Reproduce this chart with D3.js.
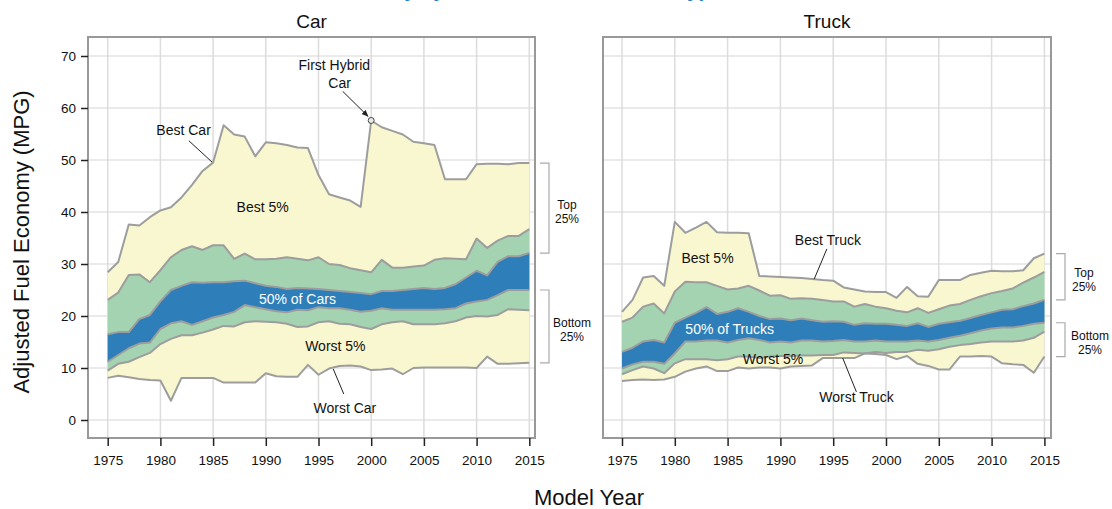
<!DOCTYPE html>
<html>
<head>
<meta charset="utf-8">
<script src="https://cdnjs.cloudflare.com/ajax/libs/d3/7.8.5/d3.min.js"></script>
<style>
  body { margin: 0; background: #fff; }
  svg { display: block; font-family: "Liberation Sans", Arial, sans-serif; }
</style>
</head>
<body>
<svg id="chart" width="1112" height="509"></svg>
<script>
// model years
var years = [1975,1976,1977,1978,1979,1980,1981,1982,1983,1984,1985,1986,1987,1988,1989,1990,
  1991,1992,1993,1994,1995,1996,1997,1998,1999,2000,2001,2002,2003,2004,2005,2006,2007,2008,
  2009,2010,2011,2012,2013,2014,2015];
var xTicks = [1975,1980,1985,1990,1995,2000,2005,2010,2015];
var yTicks = [0,10,20,30,40,50,60,70];

// car distribution (mpg)
var carMax = [28.4,30.4,37.6,37.4,39.0,40.3,40.9,42.8,45.2,47.9,49.5,56.7,54.9,54.5,50.7,53.4,
  53.2,52.9,52.4,52.3,47.1,43.4,42.8,42.2,41.0,57.6,56.3,55.6,54.9,53.5,53.2,52.9,46.3,46.3,
  46.3,49.2,49.3,49.3,49.2,49.4,49.4];
var carP95 = [23.1,24.5,27.9,28.0,26.5,28.8,31.3,32.7,33.4,32.7,33.6,33.6,31.0,32.0,30.9,30.9,
  31.0,31.3,31.0,30.7,31.3,30.0,29.8,29.2,28.8,28.4,30.8,29.3,29.3,29.5,29.7,30.8,31.1,31.0,
  30.9,34.9,33.1,34.5,35.4,35.4,36.7];
var carP75 = [16.5,16.9,16.9,19.4,20.2,22.8,25.0,25.8,26.5,26.4,26.5,26.5,26.7,26.8,26.3,25.8,
  25.6,25.2,25.4,25.3,25.2,25.0,24.8,24.6,24.4,24.2,24.8,24.8,25.0,25.2,25.4,25.2,25.4,26.1,
  27.4,28.7,27.8,30.4,31.5,31.5,32.1];
var carP25 = [11.2,12.5,13.8,14.7,14.9,17.5,18.6,19.0,18.3,19.0,19.7,20.2,20.8,22.1,21.7,21.3,
  20.9,20.7,21.2,21.1,21.7,21.5,21.5,21.2,20.8,21.0,21.5,21.2,21.2,21.2,21.2,21.2,21.3,21.5,
  22.4,22.8,23.1,24.0,25.0,25.0,25.0];
var carP5 = [9.5,10.8,11.2,12.1,12.9,14.6,15.6,16.3,16.3,16.8,17.4,18.1,18.0,18.8,19.0,18.9,
  18.8,18.5,17.9,18.0,18.8,19.0,18.5,18.4,17.9,17.5,18.4,18.8,19.0,18.4,18.4,18.4,18.6,19.0,
  19.7,20.0,19.9,20.2,21.3,21.2,21.1];
var carMin = [8.1,8.5,8.2,7.9,7.7,7.6,3.7,8.1,8.1,8.1,8.1,7.2,7.2,7.2,7.2,9.0,
  8.4,8.3,8.3,10.6,8.7,9.9,10.4,10.5,10.3,9.6,9.7,9.9,8.8,10.0,10.1,10.1,10.1,10.1,
  10.1,10.0,12.2,10.8,10.8,10.9,11.0];

// truck distribution (mpg)
var truckMax = [20.8,23.1,27.4,27.7,25.8,38.1,36.0,37.0,38.1,36.1,36.0,36.0,35.9,27.7,27.6,27.5,
  27.4,27.3,27.1,26.9,26.8,25.5,25.1,24.7,24.6,24.6,23.5,25.6,23.8,23.7,26.9,26.9,26.9,27.9,
  28.3,28.7,28.6,28.6,28.8,31.1,32.0];
var truckP95 = [18.9,19.7,21.8,22.4,20.5,24.7,26.6,26.5,26.5,25.8,25.1,25.3,25.8,24.9,23.9,24.0,
  23.3,23.4,23.3,23.1,22.8,22.8,21.8,22.3,21.8,21.5,21.0,20.7,21.5,20.6,21.3,22.0,22.3,23.1,
  23.8,24.4,24.8,25.3,26.4,27.4,28.5];
var truckP75 = [13.1,13.9,15.1,15.4,14.9,18.7,19.7,20.6,21.7,20.4,20.8,21.5,20.8,20.0,19.4,19.5,
  19.2,19.5,19.2,18.9,19.0,18.9,18.3,18.6,18.5,18.5,18.3,18.1,18.6,17.9,18.5,18.8,19.1,19.6,
  20.2,20.7,21.2,21.3,21.9,22.4,23.1];
var truckP25 = [9.9,10.7,11.2,11.2,10.8,12.8,15.1,15.1,15.3,15.3,14.9,15.4,15.7,15.4,14.9,15.1,
  14.9,15.3,15.3,15.1,15.2,15.4,15.1,15.1,15.3,15.1,15.1,15.1,15.3,15.1,15.4,15.8,16.2,16.7,
  17.2,17.6,17.8,17.8,18.1,18.5,18.7];
var truckP5 = [8.8,9.6,10.3,9.9,9.0,10.9,11.7,11.7,11.7,11.5,11.7,12.2,12.2,11.9,12.2,12.3,
  12.3,12.4,12.4,12.5,12.5,13.0,12.9,12.8,13.1,12.9,13.1,13.1,13.5,13.3,13.6,14.1,14.4,14.6,
  14.9,15.1,15.1,15.1,15.3,15.8,17.0];
var truckMin = [7.5,7.7,7.8,7.7,7.8,8.3,9.3,9.9,10.3,9.4,9.4,10.1,9.9,10.1,10.1,9.9,
  10.3,10.4,10.5,11.9,11.9,11.9,11.9,12.8,12.7,12.5,11.7,12.3,10.8,10.4,9.7,9.7,12.2,12.2,
  12.3,12.2,10.9,10.7,10.6,9.1,12.2];

// labels placed in data units [year, mpg]
var carNotes = [
  {text: "Best Car", at: [1982.2, 54.8]},
  {text: "Best 5%", at: [1989.7, 40.0]},
  {text: "50% of Cars", at: [1993.0, 22.4], white: true},
  {text: "Worst 5%", at: [1996.6, 13.2]},
  {text: "Worst Car", at: [1997.5, 1.3]},
  {text: "First Hybrid", at: [1996.5, 67.4]},
  {text: "Car", at: [1997.0, 63.9]}
];
var carLeaders = [
  {from: [1982.7, 53.7], to: [1984.9, 49.6]},
  {from: [1996.4, 9.8], to: [1997.4, 5.0]},
  {from: [1997.3, 63.2], to: [1999.7, 58.4], arrow: true}
];
var truckNotes = [
  {text: "Best 5%", at: [1983.1, 30.2]},
  {text: "Best Truck", at: [1994.5, 33.7]},
  {text: "50% of Trucks", at: [1985.2, 16.6], white: true},
  {text: "Worst 5%", at: [1989.3, 10.7]},
  {text: "Worst Truck", at: [1997.2, 3.4]}
];
var truckLeaders = [
  {from: [1994.4, 32.9], to: [1993.2, 27.1]},
  {from: [1995.9, 11.9], to: [1997.2, 5.4]}
];
var hybrid = [2000, 57.6];

var svg = d3.select("#chart");
var pTop = 37, pBottom = 438;
var y = d3.scaleLinear().domain([0, 70]).range([420, 56]);

var defs = svg.append("defs");
defs.append("marker").attr("id", "arr").attr("viewBox", "0 0 10 10")
  .attr("refX", 9).attr("refY", 5).attr("markerWidth", 7).attr("markerHeight", 7)
  .attr("orient", "auto")
  .append("path").attr("d", "M0,1 L10,5 L0,9 z").attr("fill", "#222");

// figure title, cut off at the top edge as in the source image
svg.append("text").attr("x", 556).attr("y", -3).attr("text-anchor", "middle")
  .style("font-size", "20px").style("font-weight", "bold").style("fill", "#1f7fc4")
  .text("Fuel Economy by Model Year and Vehicle Type, 1975–2015");

function panel(opt) {
  var x = d3.scaleLinear().domain([1975, 2015]).range(opt.range);
  var g = svg.append("g");
  var L = opt.frame[0], R = opt.frame[1];

  // grid
  g.selectAll(".gy").data(yTicks).enter().append("line")
    .attr("x1", L).attr("x2", R).attr("y1", y).attr("y2", y)
    .attr("stroke", "#e3e3e3").attr("stroke-width", 1.5);
  g.selectAll(".gx").data(xTicks).enter().append("line")
    .attr("y1", pTop).attr("y2", pBottom).attr("x1", x).attr("x2", x)
    .attr("stroke", "#dcdcdc").attr("stroke-width", 1.5);

  var s = opt.series;
  var rows = years.map(function(yr, i) {
    return {yr: yr, mn: s[0][i], p5: s[1][i], p25: s[2][i], p75: s[3][i], p95: s[4][i], mx: s[5][i]};
  });
  function band(lo, hi) {
    return d3.area().x(function(d) { return x(d.yr); })
      .y0(function(d) { return y(d[lo]); }).y1(function(d) { return y(d[hi]); });
  }
  g.append("path").datum(rows).attr("d", band("mn", "mx")).attr("fill", "#f9f7cf");
  g.append("path").datum(rows).attr("d", band("p5", "p95")).attr("fill", "#a3d3b1");
  g.append("path").datum(rows).attr("d", band("p25", "p75")).attr("fill", "#2e7eb9");

  ["mn", "p5", "p25", "p75", "p95", "mx"].forEach(function(k) {
    g.append("path").datum(rows)
      .attr("d", d3.line().x(function(d) { return x(d.yr); }).y(function(d) { return y(d[k]); }))
      .attr("fill", "none").attr("stroke", "#9d9d9d").attr("stroke-width", 2)
      .attr("stroke-linejoin", "round");
  });

  // frame
  g.append("rect").attr("x", L).attr("y", pTop).attr("width", R - L).attr("height", pBottom - pTop)
    .attr("fill", "none").attr("stroke", "#999").attr("stroke-width", 2);

  // x axis
  var xa = g.append("g").attr("transform", "translate(0," + pBottom + ")")
    .call(d3.axisBottom(x).tickValues(xTicks).tickSize(8).tickPadding(9).tickFormat(d3.format("d")));
  xa.select(".domain").remove();
  xa.selectAll("line").attr("stroke", "#222").attr("stroke-width", 1.5);
  xa.selectAll("text").style("font-size", "13.5px").style("fill", "#111")
    .style("font-family", "Liberation Sans, Arial, sans-serif");

  if (opt.yAxis) {
    var ya = g.append("g").attr("transform", "translate(" + L + ",0)")
      .call(d3.axisLeft(y).tickValues(yTicks).tickSize(7).tickPadding(5));
    ya.select(".domain").remove();
    ya.selectAll("line").attr("stroke", "#222").attr("stroke-width", 1.5);
    ya.selectAll("text").style("font-size", "13.5px").style("fill", "#111")
      .style("font-family", "Liberation Sans, Arial, sans-serif");
  }

  // panel title
  g.append("text").attr("x", (L + R) / 2).attr("y", 28).attr("text-anchor", "middle")
    .style("font-size", "19px").style("fill", "#111").text(opt.title);

  // leaders and notes
  opt.leaders.forEach(function(l) {
    var ln = g.append("line")
      .attr("x1", x(l.from[0])).attr("y1", y(l.from[1]))
      .attr("x2", x(l.to[0])).attr("y2", y(l.to[1]))
      .attr("stroke", "#222").attr("stroke-width", 1);
    if (l.arrow) ln.attr("marker-end", "url(#arr)");
  });
  opt.notes.forEach(function(n) {
    g.append("text").attr("x", x(n.at[0])).attr("y", y(n.at[1])).attr("text-anchor", "middle")
      .style("font-size", "14px").style("fill", n.white ? "#fff" : "#111")
      .text(n.text);
  });
  if (opt.marker) {
    g.append("circle").attr("cx", x(opt.marker[0])).attr("cy", y(opt.marker[1])).attr("r", 3)
      .attr("fill", "#e8e8e8").attr("stroke", "#444").attr("stroke-width", 1);
  }

  // brackets from the last year
  var last = rows[rows.length - 1];
  var bx0 = R + 5, bx1 = R + 14;
  function bracket(hi, lo, lines, cx) {
    var y0 = y(hi), y1 = y(lo);
    g.append("path").attr("d", "M" + bx0 + "," + y0 + "H" + bx1 + "V" + y1 + "H" + bx0)
      .attr("fill", "none").attr("stroke", "#aaa").attr("stroke-width", 1.2);
    var mid = (y0 + y1) / 2;
    lines.forEach(function(t, i) {
      g.append("text").attr("x", R + cx).attr("y", mid + 0.5 + i * 14).attr("text-anchor", "middle")
        .style("font-size", "12px").style("fill", "#111").text(t);
    });
  }
  bracket(last.mx, last.p75, ["Top", "25%"], opt.tx[0]);
  bracket(last.p25, last.mn, ["Bottom", "25%"], opt.tx[1]);
}

panel({
  title: "Car", range: [107.7, 529.3], frame: [88, 535], yAxis: true,
  series: [carMin, carP5, carP25, carP75, carP95, carMax],
  notes: carNotes, leaders: carLeaders, marker: hybrid, tx: [32, 37]
});
panel({
  title: "Truck", range: [622, 1044.4], frame: [603, 1051], yAxis: false,
  series: [truckMin, truckP5, truckP25, truckP75, truckP95, truckMax],
  notes: truckNotes, leaders: truckLeaders, tx: [33, 39]
});

// axis titles
svg.append("text").attr("transform", "translate(29,242) rotate(-90)").attr("text-anchor", "middle")
  .style("font-size", "22px").style("fill", "#111").text("Adjusted Fuel Economy (MPG)");
svg.append("text").attr("x", 589).attr("y", 505).attr("text-anchor", "middle")
  .style("font-size", "22px").style("fill", "#111").text("Model Year");
</script>
</body>
</html>
